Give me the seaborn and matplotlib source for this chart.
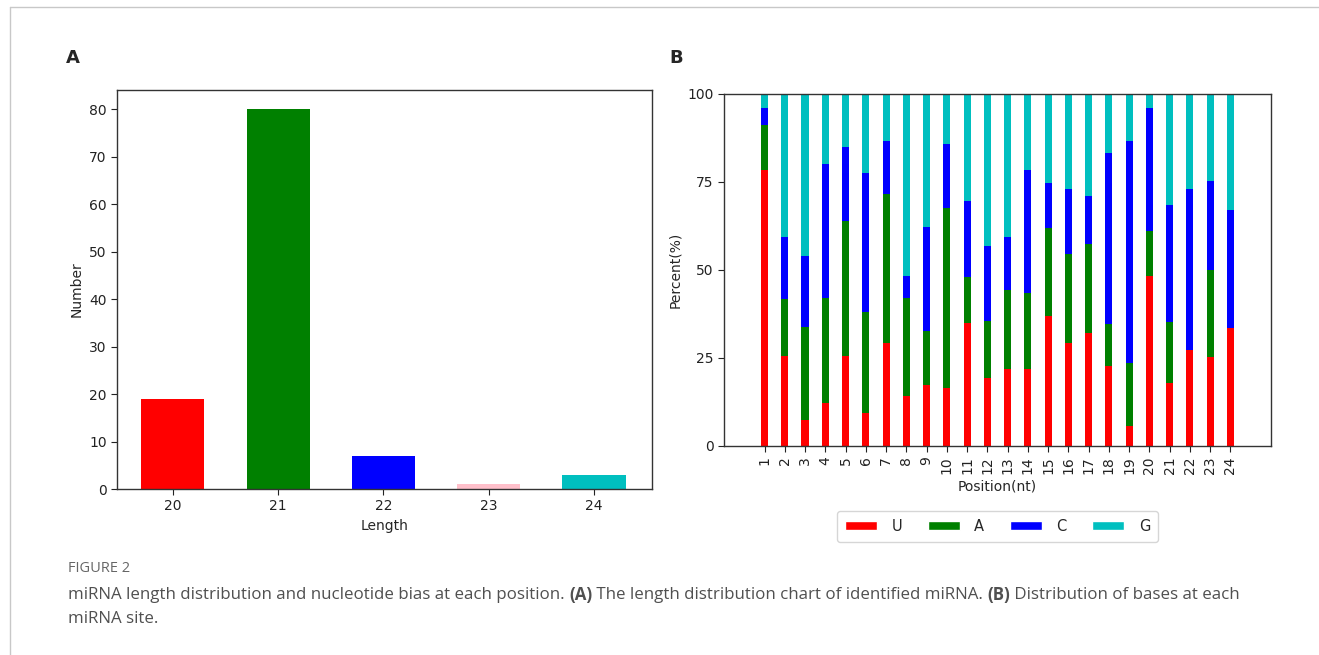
import matplotlib
matplotlib.use("Agg")
import matplotlib.pyplot as plt
from matplotlib.patches import Patch
from matplotlib.lines import Line2D
import seaborn as sns
import pandas as pd
import numpy as np

# panel A: length distribution
lengths = ["20", "21", "22", "23", "24"]
counts = [19, 80, 7, 1, 3]
length_colors = ["red", "green", "blue", "pink", "c"]

# panel B: base percentage at each position
positions = [str(i) for i in range(1, 25)]
pct_U = [78.5, 25.6, 7.3, 12.1, 25.6, 9.5, 29.3, 14.1, 17.4, 16.4, 34.9, 19.2,
         21.8, 21.8, 36.8, 29.4, 32.1, 22.8, 5.7, 48.2, 17.8, 27.3, 25.4, 33.4]
pct_A = [12.7, 16.2, 26.4, 30.0, 38.3, 28.7, 42.2, 28.0, 15.4, 51.2, 13.1, 16.4,
         22.5, 21.7, 25.1, 25.2, 25.2, 11.9, 17.9, 12.9, 17.3, 0.0, 24.5, 0.0]
pct_C = [4.7, 17.6, 20.2, 38.1, 20.9, 39.4, 15.1, 6.1, 29.4, 18.2, 21.5, 21.2,
         15.1, 35.0, 12.9, 18.3, 13.7, 48.4, 63.1, 34.8, 33.3, 45.6, 25.4, 33.6]
base_names = ["U", "A", "C", "G"]
base_colors = ["red", "green", "blue", "c"]

sns.set_style("ticks")
plt.rcParams["font.family"] = ["DejaVu Sans"]

fig = plt.figure(figsize=(13.19, 6.55), dpi=100)

# ---- panel A
axA = fig.add_axes([0.0887, 0.2534, 0.4056, 0.609])
sns.barplot(x=lengths, y=counts, hue=lengths, palette=length_colors, legend=False,
            saturation=1, width=0.6, linewidth=0, ax=axA)
axA.set_xlim(-0.53, 4.55)
axA.set_ylim(0, 84)
axA.set_yticks(range(0, 81, 10))
axA.set_xlabel("Length", fontsize=10)
axA.set_ylabel("Number", fontsize=10)

# ---- panel B (stacked by drawing cumulative heights, tallest first)
df = pd.DataFrame({"pos": positions, "U": pct_U, "A": pct_A, "C": pct_C})
df["G"] = 100 - df["U"] - df["A"] - df["C"]
cum = df[base_names].cumsum(axis=1)

axB = fig.add_axes([0.5489, 0.3191, 0.4147, 0.5374])
for name, col in reversed(list(zip(base_names, base_colors))):
    sns.barplot(x=df["pos"], y=cum[name], color=col, saturation=1, width=0.35,
                linewidth=0, ax=axB)
axB.set_xlim(-2, 25)
axB.set_ylim(0, 100)
axB.set_yticks([0, 25, 50, 75, 100])
axB.tick_params(axis="x", labelrotation=90)
axB.set_xlabel("Position(nt)", fontsize=10)
axB.set_ylabel("Percent(%)", fontsize=10)
handles = [Patch(facecolor=c, label=n) for n, c in zip(base_names, base_colors)]
axB.legend(handles=handles, loc="upper center", bbox_to_anchor=(0.5, -0.163), ncol=4,
           frameon=True, fontsize=10.5, handlelength=2.2, handleheight=0.6,
           handletextpad=1.0, columnspacing=1.75, edgecolor="#cccccc",
           borderpad=0.55)

for ax in (axA, axB):
    for s in ax.spines.values():
        s.set_visible(True)
        s.set_color("#333333")
        s.set_linewidth(1)
    ax.tick_params(labelsize=10, colors="#222222", length=4)

# panel letters
fig.text(73 / 1319, 1 - 58 / 655, "A", fontsize=13, fontweight="bold", ha="center", va="center")
fig.text(676 / 1319, 1 - 58 / 655, "B", fontsize=13, fontweight="bold", ha="center", va="center")

# frame lines of the figure page
fig.add_artist(Line2D([10 / 1319, 1], [1 - 7 / 655] * 2, color="#c8c8c8", lw=1))
fig.add_artist(Line2D([10 / 1319] * 2, [0, 1 - 7 / 655], color="#c8c8c8", lw=1))

# caption
cap_font = ["Open Sans", "DejaVu Sans"]
fig.text(68 / 1319, 1 - 568 / 655, "FIGURE 2", fontsize=10.5, color="#666666",
         family=cap_font, va="center")

renderer = fig.canvas.get_renderer()


def write_runs(x0, y, runs):
    x = x0
    for txt, bold in runs:
        t = fig.text(x, y, txt, fontsize=12.2, color="#505050", family=cap_font,
                     fontweight="bold" if bold else "normal", va="center")
        bb = t.get_window_extent(renderer=renderer)
        x += bb.width / fig.bbox.width


write_runs(68 / 1319, 1 - 595 / 655, [
    ("miRNA length distribution and nucleotide bias at each position. ", False),
    ("(A)", True),
    (" The length distribution chart of identified miRNA. ", False),
    ("(B)", True),
    (" Distribution of bases at each", False),
])
write_runs(68 / 1319, 1 - 619 / 655, [("miRNA site.", False)])

fig.savefig("out.png", dpi=100)
